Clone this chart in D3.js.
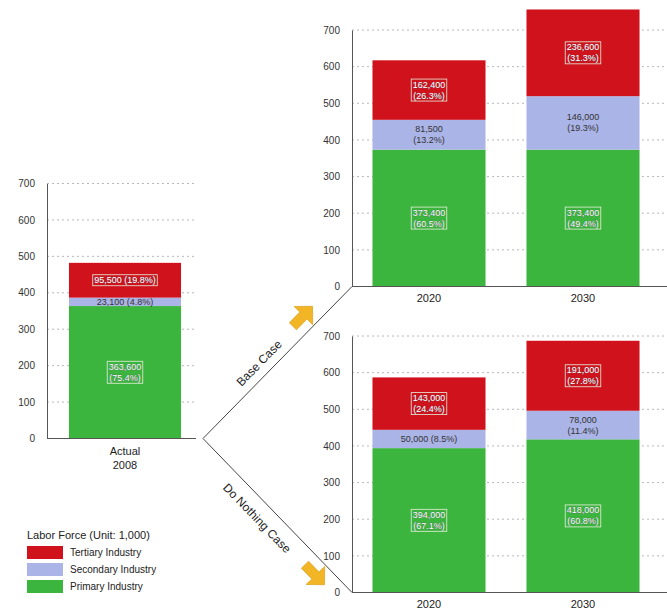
<!DOCTYPE html>
<html>
<head>
<meta charset="utf-8">
<script src="https://cdn.jsdelivr.net/npm/d3@7"></script>
<style>
  body { margin: 0; background: #fff; }
  svg { display: block; font-family: "Liberation Sans", Arial, sans-serif; }
</style>
</head>
<body>
<svg id="chart" width="667" height="613"></svg>
<script>
// values in units of 1,000 persons
var layers = ["Primary Industry", "Secondary Industry", "Tertiary Industry"];
var layerColors = ["#3cb53e", "#aab4e6", "#d0121c"];

var actualCats = ["Actual"];
var actualPrimary = [363.6];
var actualSecondary = [23.1];
var actualTertiary = [95.5];

var years = ["2020", "2030"];
var basePrimary = [373.4, 373.4];
var baseSecondary = [81.5, 146.0];
var baseTertiary = [162.4, 236.6];

var nothingPrimary = [394.0, 418.0];
var nothingSecondary = [50.0, 78.0];
var nothingTertiary = [143.0, 191.0];

var yTicks = [0, 100, 200, 300, 400, 500, 600, 700];

var svg = d3.select("#chart");
var fmt = d3.format(",");

function rows(cats, p, s, t) {
    return cats.map(function (c, i) {
        return { cat: c, "Primary Industry": p[i], "Secondary Industry": s[i], "Tertiary Industry": t[i] };
    });
}

var panels = [
    { data: rows(actualCats, actualPrimary, actualSecondary, actualTertiary),
      x0: 47, x1: 203, gridEnd: 196, y0: 438.5, yTop: 183.5, po: 0.196, pi: 0, inline: true, sub: "2008", xlabY: 455 },
    { data: rows(years, basePrimary, baseSecondary, baseTertiary),
      x0: 352, x1: 660, gridEnd: 667, y0: 286.5, yTop: 30, po: 0.133, pi: 0.266, inline: false, xlabY: 302 },
    { data: rows(years, nothingPrimary, nothingSecondary, nothingTertiary),
      x0: 352, x1: 660, gridEnd: 667, y0: 592.5, yTop: 336, po: 0.133, pi: 0.266, inline: false, xlabY: 608 }
];

var stack = d3.stack().keys(layers);

panels.forEach(function (p) {
    var x = d3.scaleBand().domain(p.data.map(function (d) { return d.cat; }))
        .range([p.x0, p.x1]).paddingInner(p.pi).paddingOuter(p.po);
    var y = d3.scaleLinear().domain([0, 700]).range([p.y0, p.yTop]);
    var g = svg.append("g");

    // dotted grid
    g.selectAll("line.grid").data(yTicks.slice(1)).enter().append("line")
        .attr("x1", p.x0).attr("x2", p.gridEnd)
        .attr("y1", function (d) { return y(d); }).attr("y2", function (d) { return y(d); })
        .attr("stroke", "#b8b8b8").attr("stroke-dasharray", "2,3");

    var series = stack(p.data);
    var seg = g.selectAll("g.layer").data(series).enter().append("g")
        .attr("fill", function (d, i) { return layerColors[i]; });
    seg.selectAll("rect").data(function (d) { return d; }).enter().append("rect")
        .attr("x", function (d) { return x(d.data.cat); })
        .attr("width", x.bandwidth())
        .attr("y", function (d) { return y(d[1]); })
        .attr("height", function (d) { return y(d[0]) - y(d[1]); });

    // value labels
    series.forEach(function (s, li) {
        s.forEach(function (d) {
            var total = layers.reduce(function (a, k) { return a + d.data[k]; }, 0);
            var v = d[1] - d[0];
            var num = fmt(Math.round(v * 10) * 100);
            var pct = "(" + (v / total * 100).toFixed(1) + "%)";
            var h = y(d[0]) - y(d[1]);
            var one = h < 22 || (p.inline && li > 0);
            var lines = one ? [num + " " + pct] : [num, pct];
            var cx = x(d.data.cat) + x.bandwidth() / 2;
            var cy = (y(d[0]) + y(d[1])) / 2;
            var onBlue = li === 1;
            var t = g.append("text").attr("text-anchor", "middle")
                .attr("font-size", 9)
                .attr("fill", onBlue ? "#333" : "#fff")
                .attr("stroke", onBlue ? "none" : "#556")
                .attr("stroke-width", 0.4)
                .attr("paint-order", "stroke");
            lines.forEach(function (l, k) {
                t.append("tspan").attr("x", cx)
                    .attr("y", cy + 3 + (k - (lines.length - 1) / 2) * 11)
                    .text(l);
            });
            if (!onBlue) {
                var bb = t.node().getBBox();
                g.append("rect").attr("x", bb.x - 1.5).attr("y", bb.y - 0.5)
                    .attr("width", bb.width + 3).attr("height", bb.height + 1)
                    .attr("fill", "none").attr("stroke", "#e6f0dc").attr("stroke-width", 0.8);
            }
        });
    });

    // axes
    var ay = g.append("g").attr("transform", "translate(" + p.x0 + ",0)")
        .call(d3.axisLeft(y).tickValues(yTicks).tickSize(0).tickPadding(12));
    ay.select(".domain").attr("stroke", "#555");
    ay.selectAll("text").attr("font-size", 10).attr("fill", "#333");

    g.append("line").attr("x1", p.x0).attr("x2", p.gridEnd)
        .attr("y1", y(0)).attr("y2", y(0)).attr("stroke", "#555");

    g.selectAll("text.xl").data(p.data).enter().append("text")
        .attr("x", function (d) { return x(d.cat) + x.bandwidth() / 2; })
        .attr("y", p.xlabY).attr("text-anchor", "middle")
        .attr("font-size", 11).attr("fill", "#222")
        .text(function (d) { return d.cat; });
    if (p.sub) {
        g.append("text").attr("x", x(p.data[0].cat) + x.bandwidth() / 2)
            .attr("y", p.xlabY + 14).attr("text-anchor", "middle")
            .attr("font-size", 11).attr("fill", "#222").text(p.sub);
    }
    p.yScale = y;
});

// branch lines to the two scenarios
var fork = [203, panels[0].yScale(0)];
var topO = [panels[1].x0, panels[1].yScale(0)];
var botO = [panels[2].x0, panels[2].yScale(0)];
svg.append("path").attr("d", d3.line()([topO, fork, botO]))
    .attr("fill", "none").attr("stroke", "#444").attr("stroke-width", 1);

function angle(a, b) { return Math.atan2(b[1] - a[1], b[0] - a[0]) * 180 / Math.PI; }

svg.append("text").attr("transform", "translate(262,366) rotate(" + angle(fork, topO) + ")")
    .attr("text-anchor", "middle").attr("font-size", 12).attr("fill", "#222").text("Base Case");
svg.append("text").attr("transform", "translate(254,521) rotate(" + angle(fork, botO) + ")")
    .attr("text-anchor", "middle").attr("font-size", 12).attr("fill", "#222").text("Do Nothing Case");

// block arrows
var arrowShape = "M-13,-5 L2,-5 L2,-13 L15,0 L2,13 L2,5 L-13,5 Z";
svg.append("path").attr("d", arrowShape)
    .attr("transform", "translate(302,317) rotate(" + angle(fork, topO) + ")")
    .attr("fill", "#f2b526").attr("stroke", "#d99a10").attr("stroke-width", 0.6);
svg.append("path").attr("d", arrowShape)
    .attr("transform", "translate(314,574) rotate(" + angle(fork, botO) + ")")
    .attr("fill", "#f2b526").attr("stroke", "#d99a10").attr("stroke-width", 0.6);

// legend
var lg = svg.append("g").attr("transform", "translate(27,0)");
lg.append("text").attr("x", 0).attr("y", 539).attr("font-size", 11).attr("fill", "#222")
    .text("Labor Force (Unit: 1,000)");
var legendOrder = layers.slice().reverse();
legendOrder.forEach(function (name, i) {
    var ci = layers.indexOf(name);
    lg.append("rect").attr("x", 0).attr("y", 546 + i * 17).attr("width", 36).attr("height", 13)
        .attr("fill", layerColors[ci]);
    lg.append("text").attr("x", 43).attr("y", 556 + i * 17).attr("font-size", 10).attr("fill", "#222")
        .text(name);
});
</script>
</body>
</html>
